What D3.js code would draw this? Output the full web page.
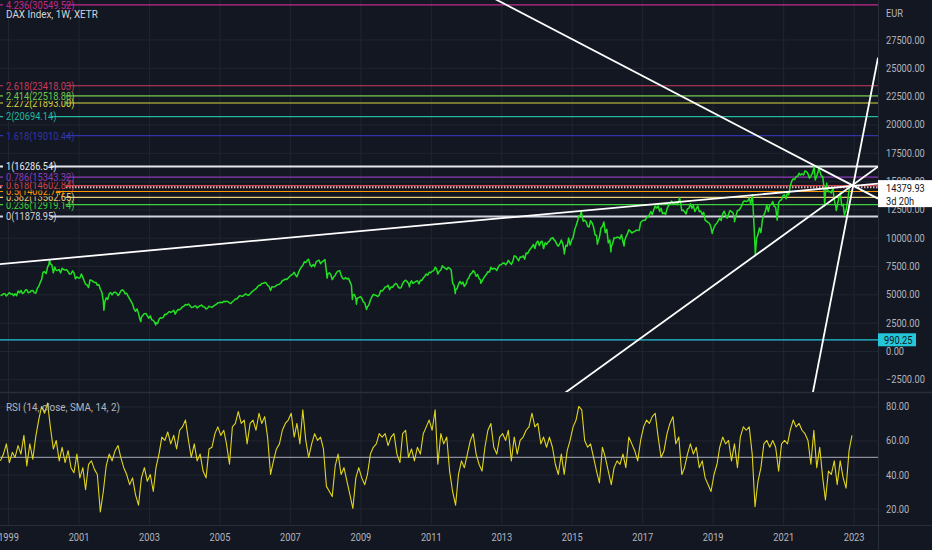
<!DOCTYPE html>
<html>
<head>
<meta charset="utf-8">
<script src="https://cdn.jsdelivr.net/npm/d3@7"></script>
<style>
    html, body { margin: 0; padding: 0; background: #131722; overflow: hidden; }
    svg { display: block; font-family: Roboto, "Noto Sans", sans-serif; }
</style>
</head>
<body>
<svg id="chart"></svg>
<script>
// DAX weekly chart, month-end closes from Oct 1998 to Oct 2022
const priceMonthly = [
    4950, 5064, 5002,
    5000, 4880, 4884, 5136, 5069, 5378, 5137, 5328, 5150, 5525, 6030, 6958,
    6835, 7644, 7599, 7414, 7110, 6898, 7190, 7185, 6798, 7077, 6372, 6434,
    6795, 6208, 5830, 6265, 6123, 6058, 5861, 5188, 4308, 4559, 5160, 5160,
    5107, 5039, 5397, 5041, 4818, 4383, 3700, 3712, 2769, 3153, 3320, 2893,
    2748, 2547, 2424, 2942, 2983, 3221, 3487, 3484, 3257, 3656, 3745, 3965,
    4058, 4018, 3857, 3985, 3921, 4052, 3895, 3785, 3893, 3960, 4126, 4256,
    4254, 4350, 4349, 4185, 4460, 4587, 4887, 4829, 5044, 4929, 5193, 5408,
    5674, 5796, 5970, 6009, 5692, 5683, 5682, 5859, 6004, 6268, 6309, 6597,
    6789, 6715, 6917, 7409, 7883, 8007, 7584, 7638, 7862, 8019, 7871, 8067,
    6851, 6748, 6535, 6949, 7097, 6418, 6480, 6422, 5831, 4988, 4669, 4810,
    4338, 3843, 4085, 4770, 4941, 4809, 5332, 5458, 5675, 5415, 5625, 5957,
    5608, 5598, 6154, 6136, 5964, 5966, 6148, 5925, 6229, 6601, 6688, 6914,
    7077, 7273, 7041, 7514, 7294, 7376, 7159, 5785, 5502, 6141, 6089, 5898,
    6458, 6856, 6947, 6761, 6264, 6416, 6772, 6971, 7216, 7260, 7405, 7612,
    7776, 7741, 7795, 7914, 8349, 7959, 8276, 8103, 8594, 9033, 9406, 9552,
    9306, 9692, 9556, 9603, 9943, 9833, 9407, 9470, 9474, 9327, 9980, 9806,
    10694, 11402, 11966, 11454, 11414, 10945, 11309, 10259, 9660, 10850, 11382, 10743,
    9798, 9495, 9966, 10039, 10263, 9680, 10337, 10593, 10511, 10665, 10640, 11481,
    11535, 11834, 12313, 12438, 12615, 12325, 12118, 12056, 12829, 13230, 13024, 12918,
    13189, 12436, 12097, 12612, 12605, 12306, 12806, 12364, 12247, 11448, 11257, 10559,
    11173, 11516, 11526, 12344, 11727, 12399, 12189, 11939, 12428, 12867, 13236, 13249,
    12981, 11890, 9936, 10862, 11587, 12311, 12313, 12945, 12761, 11556, 13291, 13719,
    13433, 13786, 15008, 15136, 15421, 15531, 15544, 15835, 15261, 15688, 15100, 15885,
    15471, 14461, 14415, 14098, 14388, 12784, 13484, 12835, 12114, 13254
];

// mid-month levels, same months
const priceMidMonth = [
    4900, 5050, 4850,
    5150, 5050, 5050, 5300, 5350, 5150, 5400, 5200, 5350, 5100, 5700, 6300,
    7000, 7400, 7700, 6900, 7100, 7200, 7300, 7150, 7000, 6800, 6900, 6550,
    6450, 6500, 5900, 5600, 6250, 6050, 5800, 5450, 4400, 4700, 5050, 4950,
    5200, 4900, 5300, 5300, 5100, 4600, 4150, 3500, 3300, 3000, 3300, 3100,
    3100, 2700, 2500, 2800, 2900, 3250, 3350, 3400, 3600, 3500, 3650, 3900,
    4100, 4150, 3850, 3950, 3800, 4000, 3900, 3700, 3950, 3850, 4050, 4250,
    4300, 4400, 4400, 4250, 4350, 4600, 4750, 4850, 4950, 4950, 5050, 5300,
    5500, 5800, 5950, 6050, 5800, 5350, 5650, 5800, 5900, 6200, 6350, 6450,
    6700, 6950, 6550, 7200, 7550, 7800, 8050, 7450, 7450, 7950, 7700, 7950,
    7000, 6900, 6300, 6700, 7050, 6700, 6350, 6350, 6100, 4900, 4650, 4700,
    4650, 4250, 3900, 4500, 5000, 4900, 4950, 5300, 5650, 5800, 5650, 5800,
    5900, 5550, 5950, 6250, 5950, 6200, 6050, 6200, 6250, 6450, 6800, 6950,
    7050, 7400, 6800, 7150, 7400, 7200, 7300, 6000, 5400, 5900, 5900, 5700,
    6300, 6800, 7100, 6600, 6400, 6150, 6600, 7000, 7400, 7300, 7100, 7600,
    7750, 7600, 8000, 7650, 8400, 8150, 8300, 8400, 8650, 8850, 9200, 9050,
    9700, 9650, 9050, 9400, 9700, 9950, 9700, 9250, 9800, 8750, 9250, 9350,
    10000, 11050, 11900, 12050, 11550, 11000, 11500, 10950, 10200, 10050, 11000, 10450,
    9550, 9200, 10000, 10050, 9900, 9650, 10050, 10700, 10400, 10550, 10650, 11350,
    11550, 11800, 12000, 12050, 12800, 12800, 12600, 12200, 12550, 13000, 13050, 13100,
    13250, 12400, 12300, 12550, 13000, 12850, 12550, 12300, 12050, 11550, 11350, 10900,
    10900, 11300, 11700, 12100, 12000, 12100, 12300, 11600, 12400, 12600, 13200, 13200,
    13500, 13750, 9200, 10300, 10450, 12000, 12900, 12900, 13200, 12700, 13100, 13350,
    13800, 14050, 14550, 15200, 15400, 15700, 15650, 15900, 15650, 15450, 16150, 15450,
    15900, 15400, 13900, 14050, 13950, 13300, 12800, 13700, 12950, 12400
];

// weekly highs and lows between those points
const priceSwings = [
    ["2000-03-07", 8065], ["2001-09-21", 3600], ["2002-10-09", 2597],
    ["2003-03-12", 2300], ["2007-07-13", 8105], ["2008-01-22", 6440],
    ["2008-10-10", 4544], ["2008-11-21", 4127], ["2009-03-06", 3666],
    ["2010-05-25", 5670], ["2011-05-02", 7527], ["2011-09-12", 5072],
    ["2012-06-01", 5978], ["2014-06-20", 10010], ["2014-10-16", 8572],
    ["2015-04-10", 12375], ["2015-09-24", 9428], ["2016-02-11", 8752],
    ["2016-06-27", 9268], ["2018-01-23", 13560], ["2018-12-27", 10381],
    ["2019-08-15", 11412], ["2020-02-17", 13789], ["2020-03-18", 8441],
    ["2021-11-17", 16290], ["2022-01-05", 16271], ["2022-03-07", 12832],
    ["2022-03-29", 14820], ["2022-07-05", 12401], ["2022-08-16", 13960],
    ["2022-09-29", 11976], ["2022-11-18", 14379.93]
];

// RSI(14), one reading per month from Oct 1998
const rsiMonthly = [
    48, 52, 58, 47, 53, 50, 57, 52, 63, 45, 58, 49,
    62, 72, 80, 76, 82, 68, 55, 60, 48, 56, 47, 54,
    44, 41, 52, 38, 44, 31, 46, 48, 43, 40, 18, 30,
    45, 52, 48, 54, 57, 50, 44, 40, 34, 38, 28, 22,
    38, 44, 36, 40, 30, 44, 52, 62, 60, 65, 58, 63,
    55, 66, 68, 72, 60, 50, 58, 48, 52, 42, 38, 55,
    56, 64, 68, 63, 66, 58, 46, 68, 70, 77, 70, 72,
    58, 70, 72, 66, 76, 70, 74, 62, 40, 48, 55, 58,
    66, 70, 72, 76, 62, 70, 58, 78, 60, 50, 58, 64,
    60, 62, 55, 33, 30, 27, 45, 52, 40, 44, 36, 28,
    20, 38, 44, 38, 34, 40, 52, 56, 58, 64, 62, 64,
    57, 62, 64, 52, 47, 64, 66, 50, 55, 48, 56, 52,
    64, 68, 72, 66, 78, 46, 64, 58, 62, 42, 30, 22,
    40, 48, 44, 52, 60, 64, 52, 46, 42, 56, 66, 70,
    56, 52, 62, 64, 60, 66, 48, 62, 52, 60, 62, 66,
    68, 76, 68, 70, 58, 62, 56, 62, 56, 46, 40, 52,
    40, 54, 60, 68, 72, 80, 78, 60, 56, 58, 50, 42,
    35, 56, 50, 42, 34, 44, 48, 46, 52, 44, 62, 58,
    54, 48, 60, 68, 72, 70, 74, 76, 62, 50, 54, 64,
    70, 74, 58, 62, 40, 44, 52, 58, 52, 56, 44, 48,
    38, 34, 30, 40, 46, 56, 62, 58, 60, 48, 58, 44,
    62, 68, 66, 68, 52, 21, 36, 44, 58, 60, 56, 60,
    56, 42, 58, 60, 58, 66, 72, 68, 70, 66, 64, 60,
    46, 66, 44, 56, 38, 25, 42, 40, 48, 34, 48, 38,
    32, 54, 63
];

const fibLevels = [0, 0.236, 0.382, 0.5, 0.618, 0.786, 1, 1.618, 2, 2.272, 2.414, 2.618, 4.236];
const fibValues = [11878.95, 12919.14, 13562.65, 14082.74, 14602.84, 15343.32, 16286.54,
    19010.44, 20694.14, 21893.00, 22518.88, 23418.03, 30549.52];
const fibColors = ["#d1d4dc", "#3fd23f", "#e8cf74", "#ff9800", "#d0444c", "#8e3bb5", "#e6e8ee",
    "#3034a8", "#22b8a0", "#d8d63c", "#72c84a", "#c93a5c", "#c4288f"];
const dottedLevel = 14450;
const supportLevel = 990.25;
const lastPrice = 14379.93;
const lastPriceTimer = "3d 20h";

// trend lines, two anchors each [date, value], drawn extended
const trendLines = [
    [["2000-03-07", 8065], ["2015-04-10", 12375]],
    [["2012-11-17", 30987], ["2022-12-14", 14655]],
    [["2020-03-18", 8441], ["2022-12-14", 14600]],
    [["2022-03-11", 1855], ["2023-03-09", 17745]]
];

const priceTicks = [-2500, 0, 2500, 5000, 7500, 10000, 12500, 15000, 17500, 20000, 22500, 25000, 27500];
const rsiTicks = [20, 40, 60, 80];
const yearTicks = [1999, 2001, 2003, 2005, 2007, 2009, 2011, 2013, 2015, 2017, 2019, 2021, 2023];

const dim = {
    width: 932,
    height: 550,
    plotRight: 878,
    mainBottom: 392,
    rsiTop: 393,
    rsiBottom: 525
};

const colors = {
    bg: "#131722",
    grid: "#21252f",
    border: "#2a2e39",
    axisText: "#b2b5be",
    price: "#22e022",
    rsi: "#e0d51e",
    support: "#26c6da"
};

const parseDate = d3.timeParse("%Y-%m-%d");

let svg, xScale, yScale, rsiScale;

function squeeze(sel, k) {
    sel.each(function() {
        const len = this.getComputedTextLength();
        d3.select(this)
            .attr("textLength", len * k)
            .attr("lengthAdjust", "spacingAndGlyphs");
    });
}

function initScales() {
    xScale = d3.scaleTime()
        .domain([new Date(1998, 9, 10), new Date(2023, 8, 11)])
        .range([0, dim.plotRight]);
    yScale = d3.scaleLinear()
        .domain([-3620, 30987])
        .range([dim.mainBottom, 0]);
    rsiScale = d3.scaleLinear()
        .domain([10.3, 87.9])
        .range([dim.rsiBottom, dim.rsiTop]);
}

function initSvg() {
    svg = d3.select("#chart")
        .attr("width", dim.width)
        .attr("height", dim.height);
    svg.append("rect")
        .attr("width", dim.width)
        .attr("height", dim.height)
        .attr("fill", colors.bg);

    const defs = svg.append("defs");
    defs.append("clipPath").attr("id", "clip-main")
        .append("rect")
        .attr("width", dim.plotRight)
        .attr("height", dim.mainBottom);
    defs.append("clipPath").attr("id", "clip-rsi")
        .append("rect")
        .attr("y", dim.rsiTop)
        .attr("width", dim.plotRight)
        .attr("height", dim.rsiBottom - dim.rsiTop);
}

function drawGrid() {
    const g = svg.append("g").attr("class", "grid");
    g.selectAll(".hgrid")
        .data(priceTicks)
        .join("line")
        .attr("x1", 0).attr("x2", dim.plotRight)
        .attr("y1", d => yScale(d) + 0.5).attr("y2", d => yScale(d) + 0.5)
        .attr("stroke", colors.grid);
    g.selectAll(".rgrid")
        .data(rsiTicks)
        .join("line")
        .attr("x1", 0).attr("x2", dim.plotRight)
        .attr("y1", d => rsiScale(d) + 0.5).attr("y2", d => rsiScale(d) + 0.5)
        .attr("stroke", colors.grid);
    g.selectAll(".vgrid")
        .data(yearTicks)
        .join("line")
        .attr("x1", d => xScale(new Date(d, 0, 1)) + 0.5)
        .attr("x2", d => xScale(new Date(d, 0, 1)) + 0.5)
        .attr("y1", 0).attr("y2", dim.rsiBottom)
        .attr("stroke", colors.grid);

    // pane borders
    svg.append("line")
        .attr("x1", 0).attr("x2", dim.width)
        .attr("y1", dim.mainBottom + 0.5).attr("y2", dim.mainBottom + 0.5)
        .attr("stroke", colors.border).attr("stroke-width", 1.5);
    svg.append("line")
        .attr("x1", 0).attr("x2", dim.width)
        .attr("y1", dim.rsiBottom + 0.5).attr("y2", dim.rsiBottom + 0.5)
        .attr("stroke", colors.border);
    svg.append("line")
        .attr("x1", dim.plotRight + 0.5).attr("x2", dim.plotRight + 0.5)
        .attr("y1", 0).attr("y2", dim.height)
        .attr("stroke", colors.border);
}

function fibData() {
    return fibLevels.map((lv, i) => ({ level: lv, value: fibValues[i], color: fibColors[i] }));
}

function drawFib() {
    const g = svg.append("g").attr("class", "fib");

    g.selectAll("line.level")
        .data(fibData())
        .join("line")
        .attr("class", "level")
        .attr("x1", 0).attr("x2", dim.plotRight)
        .attr("y1", d => yScale(d.value)).attr("y2", d => yScale(d.value))
        .attr("stroke", d => d.color)
        .attr("stroke-width", d => (d.level === 0 || d.level === 1) ? 2 : 1.2);

    g.append("line")
        .attr("x1", 0).attr("x2", dim.plotRight)
        .attr("y1", yScale(dottedLevel)).attr("y2", yScale(dottedLevel))
        .attr("stroke", "#e9b3b3")
        .attr("stroke-width", 2)
        .attr("stroke-dasharray", "1.5,1.5");

    svg.append("line")
        .attr("x1", 0).attr("x2", dim.plotRight)
        .attr("y1", yScale(supportLevel)).attr("y2", yScale(supportLevel))
        .attr("stroke", colors.support)
        .attr("stroke-width", 1.2);
}

function drawFibLabels() {
    const g = svg.append("g").attr("class", "fib-labels");
    const labels = g.selectAll("g")
        .data(fibData())
        .join("g")
        .attr("transform", d => "translate(6," + yScale(d.value) + ")");
    const bgs = labels.append("rect")
        .attr("fill", colors.bg)
        .attr("y", -5)
        .attr("height", 10);
    const txt = labels.append("text")
        .attr("dy", "0.35em")
        .attr("font-size", 11)
        .attr("fill", d => d.color)
        .text(d => d.level + "(" + d.value.toFixed(2) + ")");
    squeeze(txt, 0.84);
    bgs.each(function(d, i) {
        const w = txt.nodes()[i].getComputedTextLength();
        d3.select(this).attr("x", -3).attr("width", w * 0.84 + 5);
    });
}

function drawPrice() {
    const monthly = priceMonthly.map((v, i) => [new Date(1998, 9 + i + 1, 0), v]);
    const mid = priceMidMonth.map((v, i) => [new Date(1998, 9 + i, 15), v]);
    const swings = priceSwings.map(d => [parseDate(d[0]), d[1]]);
    const data = monthly.concat(mid, swings).sort((a, b) => a[0] - b[0]);

    const line = d3.line()
        .x(d => xScale(d[0]))
        .y(d => yScale(d[1]));

    svg.append("path")
        .datum(data)
        .attr("clip-path", "url(#clip-main)")
        .attr("fill", "none")
        .attr("stroke", colors.price)
        .attr("stroke-width", 1.5)
        .attr("stroke-linejoin", "round")
        .attr("d", line);
}

function drawTrendLines() {
    const [t0, t1] = xScale.domain();
    const lines = trendLines.map(pair => {
        const a = parseDate(pair[0][0]), b = parseDate(pair[1][0]);
        const va = pair[0][1], vb = pair[1][1];
        const at = t => va + (vb - va) * (t - a) / (b - a);
        return [[t0, at(t0)], [t1, at(t1)]];
    });
    svg.append("g")
        .attr("clip-path", "url(#clip-main)")
        .selectAll("line")
        .data(lines)
        .join("line")
        .attr("x1", d => xScale(d[0][0])).attr("y1", d => yScale(d[0][1]))
        .attr("x2", d => xScale(d[1][0])).attr("y2", d => yScale(d[1][1]))
        .attr("stroke", "#ffffff")
        .attr("stroke-width", 1.8);
}

function drawRsi() {
    svg.append("line")
        .attr("x1", 0).attr("x2", dim.plotRight)
        .attr("y1", rsiScale(50)).attr("y2", rsiScale(50))
        .attr("stroke", "#8c8f99")
        .attr("stroke-width", 1.2);

    const data = rsiMonthly.map((v, i) => [new Date(1998, 9 + i, 15), v]);
    const line = d3.line()
        .x(d => xScale(d[0]))
        .y(d => rsiScale(d[1]));
    svg.append("path")
        .datum(data)
        .attr("clip-path", "url(#clip-rsi)")
        .attr("fill", "none")
        .attr("stroke", colors.rsi)
        .attr("stroke-width", 1.1)
        .attr("stroke-linejoin", "round")
        .attr("d", line);
}

function drawLegends() {
    const title = svg.append("text")
        .attr("x", 6).attr("y", 18)
        .attr("font-size", 11.5)
        .attr("fill", "#d1d4dc")
        .text("DAX Index, 1W, XETR");
    squeeze(title, 0.86);
    const rsiTitle = svg.append("text")
        .attr("x", 6).attr("y", 411)
        .attr("font-size", 11.5)
        .attr("fill", "#b2b5be")
        .text("RSI (14, close, SMA, 14, 2)");
    squeeze(rsiTitle, 0.86);
}

function drawAxes() {
    const yAxis = d3.axisRight(yScale)
        .tickValues(priceTicks)
        .tickSize(0)
        .tickPadding(8)
        .tickFormat(d3.format(".2f"));
    const rAxis = d3.axisRight(rsiScale)
        .tickValues(rsiTicks)
        .tickSize(0)
        .tickPadding(8)
        .tickFormat(d3.format(".2f"));
    const xAxis = d3.axisBottom(xScale)
        .tickValues(yearTicks.map(yr => new Date(yr, 0, 1)))
        .tickSize(0)
        .tickPadding(8)
        .tickFormat(d3.timeFormat("%Y"));

    const gy = svg.append("g")
        .attr("transform", "translate(" + dim.plotRight + ",0)")
        .call(yAxis);
    const gr = svg.append("g")
        .attr("transform", "translate(" + dim.plotRight + ",0)")
        .call(rAxis);
    const gx = svg.append("g")
        .attr("transform", "translate(0," + dim.rsiBottom + ")")
        .call(xAxis);

    [gy, gr, gx].forEach(g => {
        g.select(".domain").remove();
        g.selectAll("text")
            .attr("fill", colors.axisText)
            .attr("font-size", 11)
            .attr("font-family", "Roboto, sans-serif");
        squeeze(g.selectAll("text"), 0.84);
    });

    const eur = svg.append("text")
        .attr("x", dim.plotRight + 8).attr("y", 17)
        .attr("font-size", 11)
        .attr("fill", colors.axisText)
        .text("EUR");
    squeeze(eur, 0.84);
}

function drawPriceTags() {
    const ys = yScale(supportLevel);
    svg.append("rect")
        .attr("x", dim.plotRight).attr("y", ys - 6.5)
        .attr("width", 38).attr("height", 13)
        .attr("fill", colors.support);
    const s = svg.append("text")
        .attr("x", dim.plotRight + 6).attr("y", ys)
        .attr("dy", "0.35em")
        .attr("font-size", 11)
        .attr("fill", "#131722")
        .text(d3.format(".2f")(supportLevel));
    squeeze(s, 0.84);

    const yl = yScale(lastPrice);
    svg.append("rect")
        .attr("x", dim.plotRight).attr("y", yl - 8)
        .attr("width", dim.width - dim.plotRight).attr("height", 27)
        .attr("fill", "#ffffff");
    const p = svg.append("text")
        .attr("x", dim.plotRight + 8).attr("y", yl)
        .attr("dy", "0.35em")
        .attr("font-size", 11)
        .attr("fill", "#131722")
        .text(d3.format(".2f")(lastPrice));
    const t = svg.append("text")
        .attr("x", dim.plotRight + 8).attr("y", yl + 13)
        .attr("dy", "0.35em")
        .attr("font-size", 11)
        .attr("fill", "#131722")
        .text(lastPriceTimer);
    squeeze(p, 0.84);
    squeeze(t, 0.84);
}

initScales();
initSvg();
drawGrid();
drawFib();
drawPrice();
drawTrendLines();
drawFibLabels();
drawRsi();
drawLegends();
drawAxes();
drawPriceTags();
</script>
</body>
</html>
